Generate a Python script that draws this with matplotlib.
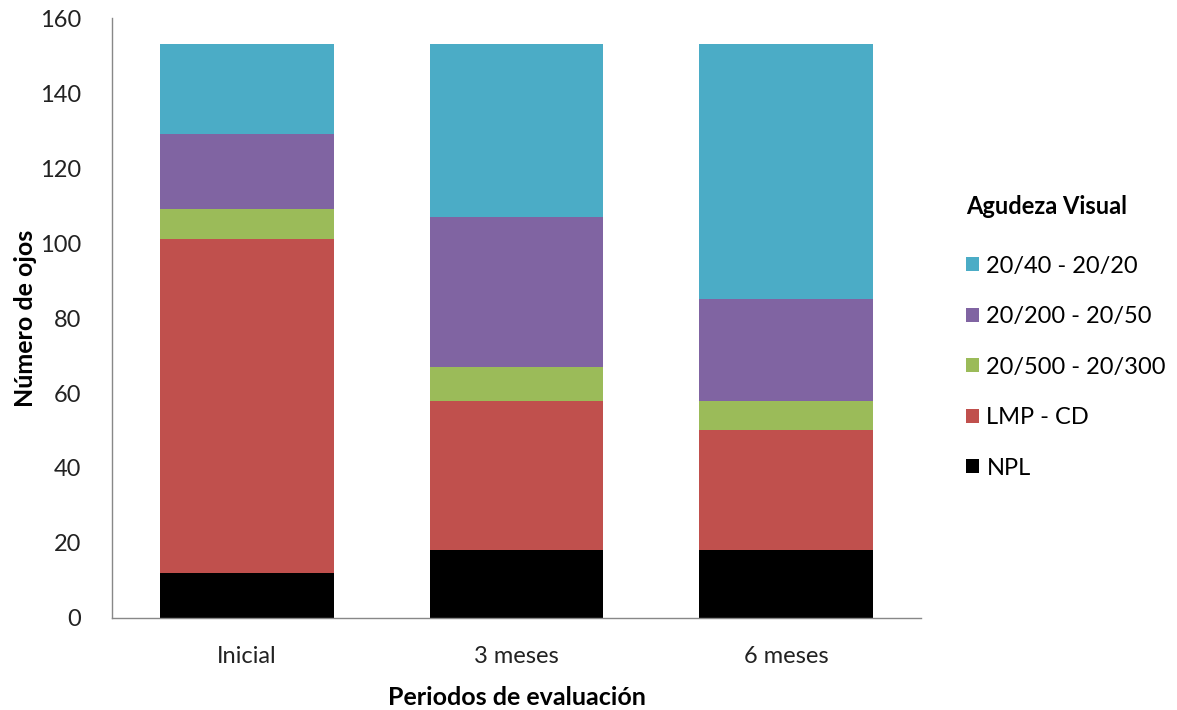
"""Stacked bars of visual acuity by evaluation period."""

import matplotlib.pyplot as plt
import numpy as np

plt.rcParams['font.family'] = ['Lato', 'DejaVu Sans']

periods = ["Inicial", "3 meses", "6 meses"]
npl = [12, 18, 18]
lmp_cd = [89, 40, 32]
av_500_300 = [8, 9, 8]
av_200_50 = [20, 40, 27]
av_40_20 = [24, 46, 68]

series = [
    ("NPL", npl, "#000000"),
    ("LMP - CD", lmp_cd, "#C0504D"),
    ("20/500 - 20/300", av_500_300, "#9BBB59"),
    ("20/200 - 20/50", av_200_50, "#8064A2"),
    ("20/40 - 20/20", av_40_20, "#4BACC6"),
]

fig = plt.figure(figsize=(11.77, 7.10), dpi=100)
ax = fig.add_axes([0.0952, 0.1296, 0.6873, 0.845])

x = np.arange(len(periods))
bottom = np.zeros(len(periods))
handles = []
for label, vals, color in series:
    bars = ax.bar(x, vals, width=0.643, bottom=bottom, color=color, label=label)
    handles.append(bars)
    bottom += np.array(vals)

ax.set_xlim(-0.5, 2.5)
ax.set_ylim(0, 160)
ax.set_yticks(np.arange(0, 161, 20))
ax.set_xticks(x)
ax.set_xticklabels(periods)
ax.tick_params(axis='both', length=0, labelsize=17, colors='#222222')
ax.tick_params(axis='x', pad=20)
ax.tick_params(axis='y', pad=22)

for side in ("top", "right"):
    ax.spines[side].set_visible(False)
for side in ("left", "bottom"):
    ax.spines[side].set_color("#888888")
    ax.spines[side].set_linewidth(1.0)

ax.set_xlabel("Periodos de evaluación", fontsize=18, fontweight='bold', labelpad=14)
ax.set_ylabel("Número de ojos", fontsize=18, fontweight='bold')
ax.yaxis.set_label_coords(-0.093, 0.5)

# legend title drawn separately so its gap to the entries can be wider
fig.text(0.8207, 0.7085, "Agudeza Visual", fontsize=17, fontweight='bold',
         ha='left', va='center')
fig.legend(
    handles[::-1], [s[0] for s in series][::-1],
    loc="center left", bbox_to_anchor=(0.803, 0.483),
    frameon=False, fontsize=17,
    handlelength=0.55, handleheight=0.55, handletextpad=0.3, labelspacing=1.25,
)

fig.savefig("out.png", dpi=100)
plt.close()
